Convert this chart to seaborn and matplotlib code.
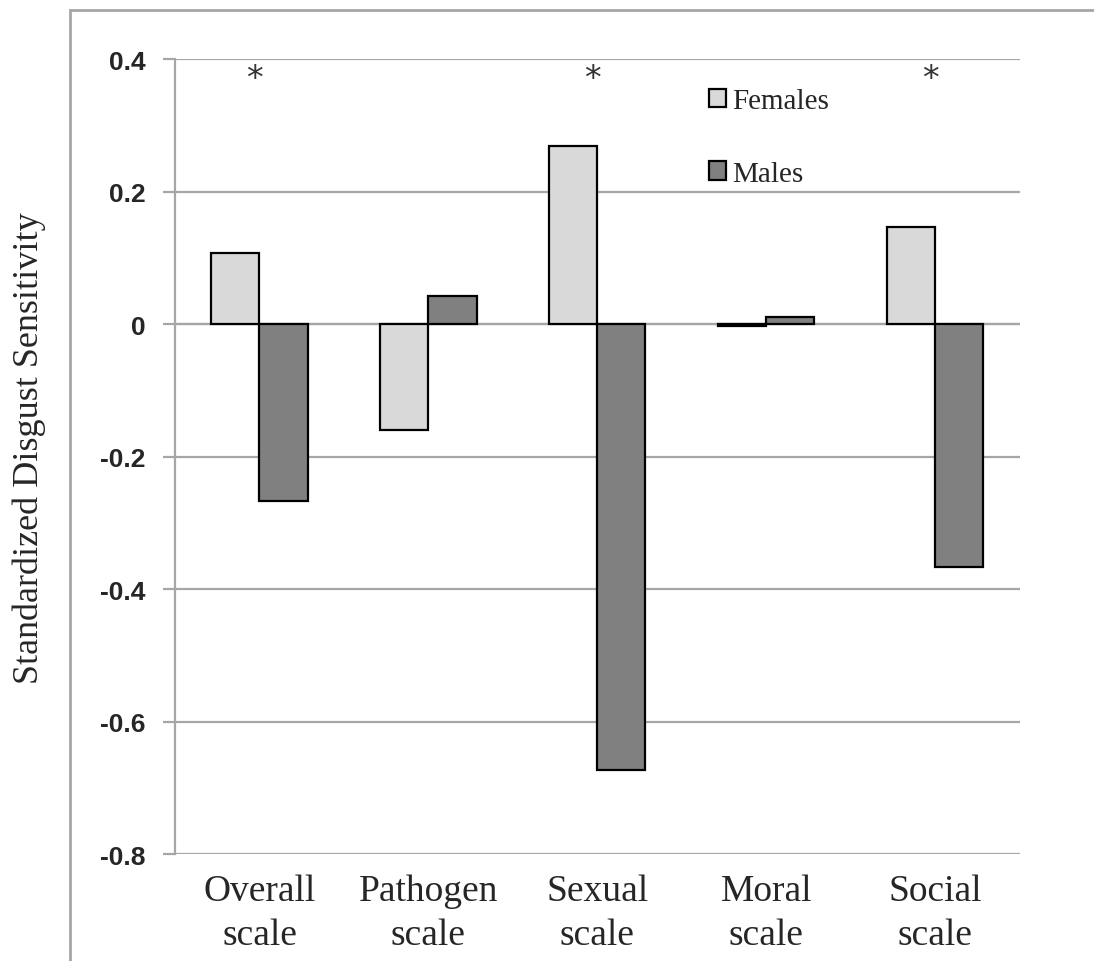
import matplotlib

matplotlib.use("Agg")
import matplotlib.pyplot as plt
import pandas as pd
import seaborn as sns
from matplotlib.patches import Rectangle

categories = ["Overall\nscale", "Pathogen\nscale", "Sexual\nscale", "Moral\nscale", "Social\nscale"]
females = [0.107, -0.160, 0.269, -0.003, 0.146]
males = [-0.267, 0.042, -0.673, 0.011, -0.367]
significant = [True, False, True, False, True]
y_ticks = [0.4, 0.2, 0, -0.2, -0.4, -0.6, -0.8]

df = pd.DataFrame({
    "scale": categories * 2,
    "value": females + males,
    "sex": ["Females"] * 5 + ["Males"] * 5,
})

sns.set_style("white")
serif = ["Liberation Serif", "DejaVu Serif"]

fig = plt.figure(figsize=(10.94, 9.62), dpi=100)
ax = fig.add_axes([0.16, 0.111, 0.772, 0.8266])

# outer chart-area frame, cut at right and bottom like the source image
fig.patches.append(Rectangle((70 / 1094, -0.1), 1.2, 1.1 - 11 / 962,
                             transform=fig.transFigure, fill=False,
                             edgecolor="#a6a6a6", linewidth=2))

sns.barplot(data=df, x="scale", y="value", hue="sex", order=categories,
            palette={"Females": "#d9d9d9", "Males": "#808080"},
            width=0.57, gap=0, edgecolor="black", linewidth=1.6, ax=ax)

ax.set_ylim(-0.8, 0.4)
ax.set_xlim(-0.5, 4.5)
ax.set_yticks(y_ticks)
ax.set_yticklabels(["0.4", "0.2", "0", "-0.2", "-0.4", "-0.6", "-0.8"],
                   fontsize=19, fontweight="bold", family="Liberation Sans")
ax.yaxis.grid(True, color="#a6a6a6", linewidth=1.6)
ax.set_axisbelow(True)
ax.tick_params(axis="y", length=8.5, width=1.6, color="#a6a6a6", pad=13, left=True)
ax.tick_params(axis="x", length=0, pad=14)
for lab in ax.get_xticklabels():
    lab.set_fontsize(27)
    lab.set_family(serif)
    lab.set_linespacing(1.35)
for side in ["top", "right", "bottom"]:
    ax.spines[side].set_visible(False)
ax.spines["left"].set_color("#a6a6a6")
ax.spines["left"].set_linewidth(1.6)
ax.axhline(0, color="#a6a6a6", linewidth=1.6, zorder=0.5)

ax.set_xlabel("")
ax.set_ylabel("Standardized Disgust Sensitivity", fontsize=26, family=serif)
ax.yaxis.set_label_coords(-0.153, 0.512)

for i, sig in enumerate(significant):
    if sig:
        ax.text(i - 0.03, 0.37, "*", ha="center", va="center", fontsize=24, color="#333333")

ax.legend(loc="upper left", bbox_to_anchor=(0.618, 0.978), frameon=False,
          prop={"family": serif, "size": 21}, handlelength=0.6, handleheight=0.6,
          handletextpad=0.2, labelspacing=1.6, borderaxespad=0)

fig.savefig("out.png", dpi=100)
